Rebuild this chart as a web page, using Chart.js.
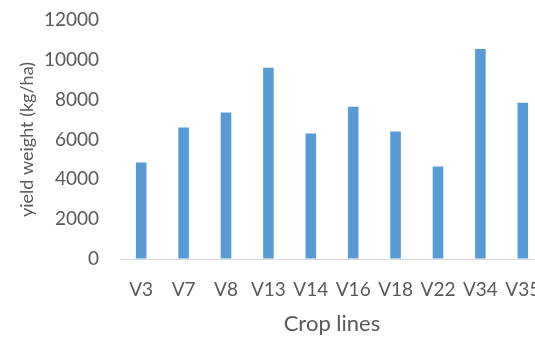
<!DOCTYPE html>
<html>
<head>
<meta charset="utf-8">
<script src="https://cdn.jsdelivr.net/npm/chart.js@4/dist/chart.umd.min.js"></script>
<style>
  html, body { margin: 0; padding: 0; background: #ffffff; overflow: hidden; }
  #wrap { width: 560px; height: 338px; position: relative; }
</style>
</head>
<body>
<div id="wrap"><canvas id="chart" width="560" height="338"></canvas></div>
<script>
// Crop lines and their yield weights (kg/ha)
const cropLines = ['V3', 'V7', 'V8', 'V13', 'V14', 'V16', 'V18', 'V22', 'V34', 'V35'];
const yieldWeight = [4850, 6600, 7350, 9600, 6300, 7650, 6400, 4650, 10550, 7850];
const yTicks = [0, 2000, 4000, 6000, 8000, 10000, 12000];

const textGrey = '#595959';
const barBlue = '#5B9BD5';

new Chart(document.getElementById('chart'), {
  type: 'bar',
  data: {
    labels: cropLines,
    datasets: [{
      data: yieldWeight,
      backgroundColor: barBlue,
      borderWidth: 0,
      barPercentage: 0.25,
      categoryPercentage: 1.0
    }]
  },
  options: {
    responsive: false,
    animation: false,
    devicePixelRatio: 1,
    layout: { padding: { top: 20, right: 15, bottom: 0, left: 0 } },
    plugins: {
      legend: { display: false },
      tooltip: { enabled: false }
    },
    scales: {
      x: {
        grid: { display: false, drawTicks: false },
        border: { display: true, color: '#D9D9D9', width: 1 },
        ticks: {
          color: textGrey,
          font: { family: 'Lato', size: 19 },
          padding: 19,
          maxRotation: 0,
          autoSkip: false
        },
        title: {
          display: true,
          text: 'Crop lines',
          color: textGrey,
          font: { family: 'Lato', size: 22 },
          padding: { top: 0, bottom: 1 }
        },
        afterFit: (s) => { s.height = 79; }
      },
      y: {
        min: 0,
        max: 12000,
        afterBuildTicks: (s) => { s.ticks = yTicks.map(v => ({ value: v })); },
        // invisible tick marks keep the labels clear of the plot area
        grid: { display: true, drawOnChartArea: false, drawTicks: true, tickLength: 18, color: 'rgba(0,0,0,0)' },
        border: { display: false },
        ticks: {
          color: textGrey,
          font: { family: 'Lato', size: 19 },
          padding: 3,
          callback: (v) => String(v)
        },
        title: {
          display: true,
          text: 'yield weight (kg/ha)',
          color: textGrey,
          font: { family: 'Lato', size: 18 },
          padding: { top: 16, bottom: 0 }
        },
        afterFit: (s) => { s.width = 120; }
      }
    }
  }
});
</script>
</body>
</html>
